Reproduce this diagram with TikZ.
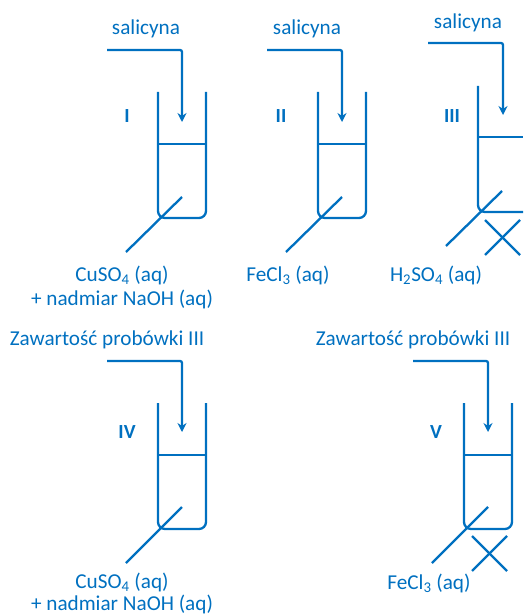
\documentclass[tikz,border=0pt]{standalone}
\usepackage{fontspec}
\setmainfont{Carlito}
\usetikzlibrary{arrows.meta}
\definecolor{tubeblue}{HTML}{0070C0}

\begin{document}
\begin{tikzpicture}[x=1pt, y=-1pt,
    tube/.style={draw=tubeblue, line width=2.3pt, rounded corners=7pt},
    line/.style={draw=tubeblue, line width=2.3pt},
    feed/.style={draw=tubeblue, line width=2.3pt, rounded corners=2pt, -{Stealth[length=9pt,width=9pt]}},
    every node/.style={text=tubeblue, font=\fontsize{21.2}{24}\selectfont, inner sep=0pt},
    number/.style={font=\fontsize{20}{24}\selectfont\bfseries}]
  \useasboundingbox (0,0) rectangle (523,615);

  % Tube I
  \node (saltI) at (146,29) {salicyna};
  \node[number] (numI) at (127,116) {I};
  \node (reagI) at (122,275) {CuSO\textsubscript{4} (aq)};
  \node (naohI) at (122,299) {+ nadmiar NaOH (aq)};
  \coordinate (feedI) at (107,50);
  \coordinate (dropI) at (182,122);
  \coordinate (inI) at (182,197);
  \coordinate (outI) at (126,252);
  \draw[feed] (feedI) -| (dropI);
  \draw[tube] (158,92) -- (158,218) -- (206,218) -- (206,92);
  \draw[line] (158,144) -- (206,144);
  \draw[line] (inI) -- (outI);

  % Tube II
  \node (saltII) at (307,29) {salicyna};
  \node[number] (numII) at (281,116) {II};
  \node (reagII) at (288,275) {FeCl\textsubscript{3} (aq)};
  \coordinate (feedII) at (267,50);
  \coordinate (dropII) at (342,122);
  \coordinate (inII) at (342,197);
  \coordinate (outII) at (286,252);
  \draw[feed] (feedII) -| (dropII);
  \draw[tube] (318,92) -- (318,218) -- (366,218) -- (366,92);
  \draw[line] (318,144) -- (366,144);
  \draw[line] (inII) -- (outII);

  % Tube III
  \node (saltIII) at (468,23) {salicyna};
  \node[number] (numIII) at (452,116) {III};
  \node (reagIII) at (436,275) {H\textsubscript{2}SO\textsubscript{4} (aq)};
  \coordinate (feedIII) at (428,43);
  \coordinate (dropIII) at (503,115);
  \coordinate (inIII) at (502,191);
  \coordinate (outIII) at (446,246);
  \draw[feed] (feedIII) -| (dropIII);
  \draw[tube] (478,86) -- (478,212) -- (523,212);
  \draw[line] (478,137) -- (523,137);
  \draw[line] (inIII) -- (outIII);
  \draw[line] (485,220) -- (520,255);
  \draw[line] (520,220) -- (485,255);

  % Tube IV
  \node (saltIV) at (107,340) {Zawartość probówki III};
  \node[number] (numIV) at (127,432) {IV};
  \node (reagIV) at (122,582) {CuSO\textsubscript{4} (aq)};
  \node (naohIV) at (122,604.5) {+ nadmiar NaOH (aq)};
  \coordinate (feedIV) at (107,361);
  \coordinate (dropIV) at (182,432);
  \coordinate (inIV) at (182,507);
  \coordinate (outIV) at (126,563);
  \draw[feed] (feedIV) -| (dropIV);
  \draw[tube] (158,403) -- (158,529) -- (206,529) -- (206,403);
  \draw[line] (158,455) -- (206,455);
  \draw[line] (inIV) -- (outIV);

  % Tube V
  \node (saltV) at (413,340) {Zawartość probówki III};
  \node[number] (numV) at (436,432) {V};
  \node (reagV) at (429,583) {FeCl\textsubscript{3} (aq)};
  \coordinate (feedV) at (413,361);
  \coordinate (dropV) at (488,432);
  \coordinate (inV) at (488,507);
  \coordinate (outV) at (432,563);
  \draw[feed] (feedV) -| (dropV);
  \draw[tube] (464,403) -- (464,529) -- (512,529) -- (512,403);
  \draw[line] (464,455) -- (512,455);
  \draw[line] (inV) -- (outV);
  \draw[line] (472,536) -- (507,571);
  \draw[line] (507,536) -- (472,571);
\end{tikzpicture}
\end{document}
